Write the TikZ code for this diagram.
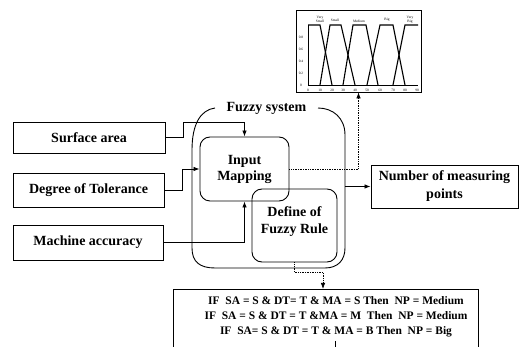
\documentclass[tikz,border=0pt]{standalone}
\usepackage{fontspec}
\setmainfont{Liberation Serif}
\usetikzlibrary{arrows.meta}
\begin{document}
\begin{tikzpicture}[x=1pt,y=-1pt,
  box/.style={draw, line width=0.9pt, inner sep=0pt, align=center,
    font=\bfseries\fontsize{14}{16}\selectfont},
  rbox/.style={box, rounded corners=10pt},
  conn/.style={line width=0.8pt},
  arr/.style={conn, -{Latex[length=6pt,width=4.5pt]}},
  dotc/.style={line width=0.7pt, densely dotted, -{Latex[length=6pt,width=4.5pt]}},
  mf/.style={line width=1.1pt},
  tiny/.style={inner sep=0pt, font=\fontsize{3.5}{4}\selectfont, align=center},
  lbl/.style={inner sep=0pt, align=center, font=\bfseries\fontsize{14}{17}\selectfont}
]
\useasboundingbox (0,0) rectangle (520,347);
\clip (0,0) rectangle (520,347);

% input boxes
\node[box, minimum width=152pt, minimum height=31pt] (sa) at (89,137.5) {Surface area};
\node[box, minimum width=151pt, minimum height=34pt] (dt) at (88.5,190) {Degree of Tolerance};
\node[box, minimum width=150pt, minimum height=35pt] (ma) at (88,242.5) {Machine accuracy};

% fuzzy system frame
\node[lbl] (fs) at (266.5,108) {Fuzzy system};
\draw[line width=0.9pt] (215,108) .. controls (200,110) and (192,125) .. (192,150)
  -- (192,248) .. controls (192,262) and (200,268) .. (215,268)
  -- (325,268) .. controls (338,268) and (345,260) .. (345,248)
  -- (345,135) .. controls (345,118) and (333,108) .. (318,108);

% inner boxes
\node[rbox, minimum width=89pt, minimum height=64pt] (im) at (244.5,169) {Input\\Mapping};
\node[rbox, minimum width=85pt, minimum height=73pt] (fr) at (294.5,225.5) {};
\node[lbl] (frt) at (294.5,221.5) {Define of\\Fuzzy Rule};

% output box
\node[box, minimum width=147pt, minimum height=43pt, font=\bfseries\fontsize{14}{18}\selectfont] (np) at (444.5,186.5) {Number of measuring\\points};

% chart
\node[draw, line width=0.8pt, minimum width=125pt, minimum height=82pt, inner sep=0pt] (chart) at (358.5,51) {};
\draw[line width=0.6pt] (308,25) -- (308,85) -- (418,85);
\draw[mf] (308,25) -- (320,25) -- (332,85);
\draw[mf] (320,85) -- (330,25) -- (341,25) -- (355,85);
\draw[mf] (343,85) -- (353,25) -- (366,25) -- (378,85);
\draw[mf] (367,85) -- (380,25) -- (393,25) -- (405,85);
\draw[mf] (393,85) -- (405,25) -- (418,25);
\node[tiny] (lvs) at (320,19.5) {Very\\Small};
\node[tiny] (ls) at (335,20) {Small};
\node[tiny] (lm) at (359,21) {Medium};
\node[tiny] (lb) at (387,20) {Big};
\node[tiny] (lvb) at (410,19.5) {Very\\Big};
\foreach \v/\yy in {0.8/37,0.6/49,0.4/61,0.2/73,0/85}
  \node[tiny] at (301,\yy) {\v};
\foreach \v/\xx in {0/308,10/320,20/332,30/343,40/355,50/367,60/380,70/393,80/405,90/417}
  \node[tiny] at (\xx,90) {\v};

% rules box
\draw[line width=0.9pt] (173,360) -- (173,289) -- (478,289) -- (478,360);
\node[inner sep=0pt, align=center, font=\bfseries\fontsize{11.5}{15}\selectfont] (rules) at (336,317)
  {IF\ \ SA = S \& DT= T \& MA = S Then\ \ NP = Medium\\
   IF\ \ SA = S \& DT = T \&MA = M\ \ Then\ \ NP = Medium\\
   IF\ \ SA= S \& DT = T \& MA = B Then\ \ NP = Big};
\draw[line width=0.8pt] (335,341) -- (335,347);

% connectors
\coordinate (sa1) at (183,122);
\draw[arr] (sa.east) -| (sa1) -| (im.north);
\coordinate (dt1) at (182,169);
\draw[arr] (dt.east) -| (dt1) -- (im.west);
\draw[arr] (ma.east) -| (im.south);
\coordinate (fsr) at (345,186.5);
\draw[arr] (fsr) -- (np.west);
\draw[dotc] (im.east) -| (chart.south);
\coordinate (rt) at (323,289);
\draw[dotc] (fr.south) -- ++(0,10) -| (rt);
\end{tikzpicture}
\end{document}
